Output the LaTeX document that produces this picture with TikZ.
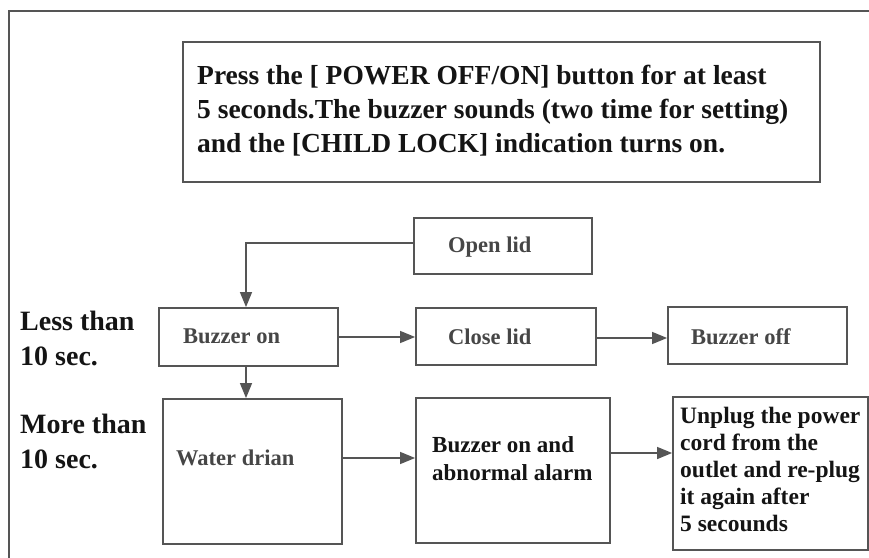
\documentclass[tikz,border=0pt]{standalone}
\usepackage{fontspec}
\setmainfont{Liberation Serif}
\usetikzlibrary{arrows.meta}
\definecolor{lineg}{RGB}{85,85,85}
\definecolor{txtg}{RGB}{70,70,70}
\definecolor{txtk}{RGB}{20,20,20}
\begin{document}
\begin{tikzpicture}[x=1bp,y=-1bp,
  box/.style={draw=lineg,line width=1.8bp,inner sep=0pt},
  arr/.style={draw=lineg,line width=1.3bp,-{Triangle[length=15bp,width=12bp]}},
  boxtxt/.style={anchor=base west,inner sep=0pt,text=txtg,font=\bfseries\fontsize{22.5bp}{27bp}\selectfont},
  bigtxt/.style={anchor=north west,inner sep=0pt,align=left,text=txtk},
]
\useasboundingbox (0,0) rectangle (869,558);
% outer frame
\coordinate (f1) at (8,11);
\coordinate (f2) at (869,11);
\coordinate (f3) at (9,11);
\coordinate (f4) at (9,558);
\draw[line width=2bp,color=lineg] (f1) -- (f2);
\draw[line width=2bp,color=lineg] (f3) -- (f4);

% boxes
\node[box,minimum width=637bp,minimum height=140bp] (top) at (501.5,112) {};
\node[box,minimum width=178bp,minimum height=56bp] (open) at (503,246) {};
\node[box,minimum width=179bp,minimum height=58bp] (bon) at (248.5,337) {};
\node[box,minimum width=180bp,minimum height=57bp] (close) at (506,336.5) {};
\node[box,minimum width=179bp,minimum height=57bp] (boff) at (757.5,335.5) {};
\node[box,minimum width=179bp,minimum height=145bp] (water) at (252.5,471.5) {};
\node[box,minimum width=194bp,minimum height=145bp] (alarm) at (513,470.5) {};
\node[box,minimum width=195bp,minimum height=153bp] (unplug) at (770.5,473.5) {};

% texts
\node[bigtxt,font=\bfseries\fontsize{27.5bp}{34bp}\selectfont] (toptxt) at (197,65.3)
  {Press the [ POWER OFF/ON] button for at least\\5 seconds.The buzzer sounds (two time for setting)\\and the [CHILD LOCK] indication turns on.};
\node[bigtxt,font=\bfseries\fontsize{28bp}{35bp}\selectfont] (less) at (20,311) {Less than\\10 sec.};
\node[bigtxt,font=\bfseries\fontsize{28bp}{35bp}\selectfont] (more) at (20,414) {More than\\10 sec.};
\node[boxtxt] (opentxt) at (448,253) {Open lid};
\node[boxtxt] (closetxt) at (448,345) {Close lid};
\node[boxtxt] (bontxt) at (183,344) {Buzzer on};
\node[boxtxt] (bofftxt) at (691,345) {Buzzer off};
\node[boxtxt] (watertxt) at (176,465) {Water drian};
\node[bigtxt,font=\bfseries\fontsize{23bp}{28bp}\selectfont] (alarmtxt) at (432,436.4) {Buzzer on and\\abnormal alarm};
\node[bigtxt,font=\bfseries\fontsize{23.5bp}{27bp}\selectfont] (unplugtxt) at (680,407) {Unplug the power\\cord from the\\outlet and re-plug\\it again after\\5 secounds};

% connectors
\draw[arr] ([yshift=3bp]open.west) -| ([xshift=-2.5bp]bon.north);
\draw[arr] (bon.east) -- (bon.east -| close.west);
\draw[arr] ([yshift=-1.5bp]close.east) -- ([yshift=-1.5bp]close.east -| boff.west);
\draw[arr] ([xshift=-2.5bp]bon.south) -- ([xshift=-2.5bp]bon.south |- water.north);
\draw[arr] (water.east |- 0,458) -- (alarm.west |- 0,458);
\draw[arr] (alarm.east |- 0,453) -- (unplug.west |- 0,453);
\end{tikzpicture}
\end{document}
